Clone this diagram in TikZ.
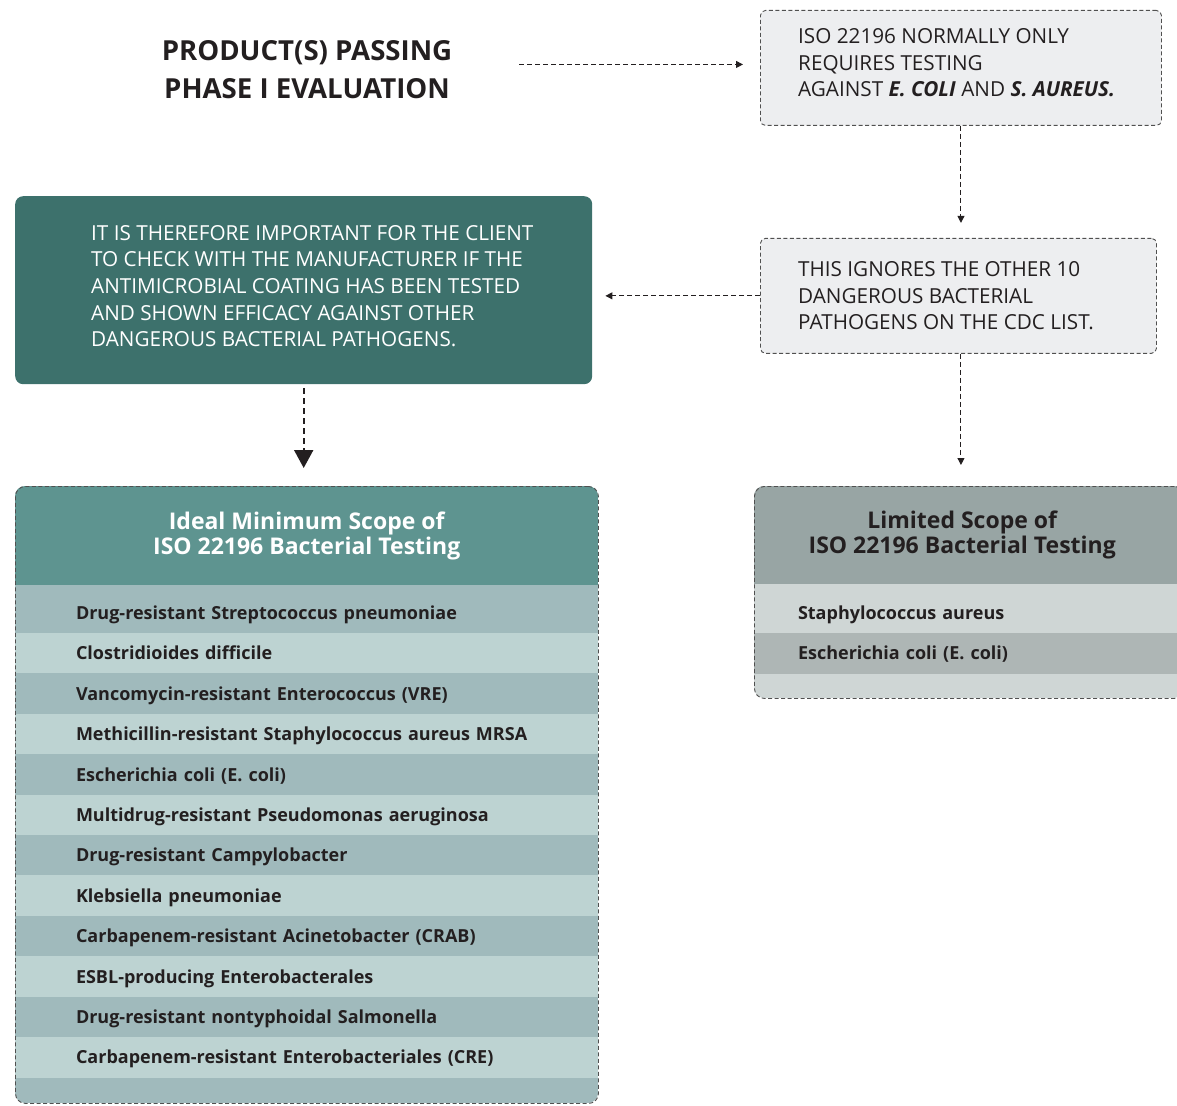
\documentclass[tikz,border=0pt]{standalone}
\usepackage{fontspec}
\setmainfont{Open Sans}
\usepackage{xcolor}
\definecolor{isoDark}{HTML}{231F20}
\definecolor{isoNote}{HTML}{EDEEF0}
\definecolor{isoFrame}{HTML}{505050}
\definecolor{isoTeal}{HTML}{3D716C}
\definecolor{idealHead}{HTML}{5E9490}
\definecolor{idealDark}{HTML}{A0BABC}
\definecolor{idealLight}{HTML}{BDD3D2}
\definecolor{limHead}{HTML}{98A5A4}
\definecolor{limDark}{HTML}{AEB6B5}
\definecolor{limLight}{HTML}{CFD6D5}
\usetikzlibrary{arrows.meta,positioning,calc}
\tikzset{
    note/.style={
        draw=isoFrame,
        fill=isoNote,
        rectangle,
        rounded corners=5pt,
        dash pattern=on 4pt off 2.5pt,
        line width=0.9pt,
        minimum width=401pt,
        minimum height=115pt,
        inner sep=0pt
    },
    notetext/.style={
        anchor=west,
        align=left,
        inner sep=0pt,
        text=isoDark,
        font=\fontsize{20.7}{26.6}\selectfont
    },
    advice/.style={
        fill=isoTeal,
        rectangle,
        rounded corners=8pt,
        minimum width=577pt,
        minimum height=188pt,
        inner sep=0pt
    },
    headline/.style={
        align=center,
        inner sep=0pt,
        text=isoDark,
        font=\bfseries\fontsize{27.6}{38}\selectfont
    },
    scopeframe/.style={
        draw=isoFrame,
        rectangle,
        rounded corners=10pt,
        dash pattern=on 4pt off 2.5pt,
        line width=0.9pt,
        inner sep=0pt
    },
    tablehead/.style={
        rectangle,
        align=center,
        inner sep=0pt,
        minimum height=99pt,
        font=\bfseries\fontsize{23}{25}\selectfont
    },
    tablerow/.style={
        rectangle,
        align=left,
        inner ysep=0pt,
        text height=13pt,
        text depth=0pt,
        minimum height=41pt,
        text=isoDark,
        font=\bfseries\fontsize{18}{22}\selectfont
    },
    flow/.style={
        -{Triangle[length=7pt,width=7pt]},
        draw=isoDark,
        line width=1pt,
        dash pattern=on 5pt off 3pt
    },
    bigflow/.style={
        -{Triangle[length=18pt,width=19pt]},
        draw=isoDark,
        line width=2pt,
        dash pattern=on 6pt off 4pt
    }
}

\begin{document}
\begin{tikzpicture}[x=1pt, y=-1pt]
    \useasboundingbox (0,0) rectangle (1177,1105);

    % Start - products passing phase I
    \node[headline] (phase) at (307,70) {PRODUCT(S) PASSING\\PHASE I EVALUATION};

    % Right column - notes on ISO 22196
    \node[note, anchor=north west] (iso) at (760,10) {};
    \node[notetext] (isotxt) at ($(iso.west)+(38,-5)$) {ISO 22196 NORMALLY ONLY\\REQUIRES TESTING\\AGAINST \textbf{\textit{E. COLI}} AND \textbf{\textit{S. AUREUS.}}};

    \node[note, minimum width=396pt, below right=112pt and 0pt of iso.south west] (ignores) {};
    \node[notetext] (ignorestxt) at ($(ignores.west)+(38,0)$) {THIS IGNORES THE OTHER 10\\DANGEROUS BACTERIAL\\PATHOGENS ON THE CDC LIST.};

    % Left column - advice to the client
    \node[advice, anchor=north west] (client) at (15,196) {};
    \node[notetext, text=white] (clienttxt) at ($(client.west)+(76,-4)$) {IT IS THEREFORE IMPORTANT FOR THE CLIENT\\TO CHECK WITH THE MANUFACTURER IF THE\\ANTIMICROBIAL COATING HAS BEEN TESTED\\AND SHOWN EFFICACY AGAINST OTHER\\DANGEROUS BACTERIAL PATHOGENS.};

    % Ideal scope table - rows
    \begin{scope}
        \clip[rounded corners=10pt] (15,486) rectangle (598,1103);
        \node[tablehead, fill=idealHead, text=white, minimum width=583pt, anchor=north west] (idealhead) at (15,486) {Ideal Minimum Scope of\\ISO 22196 Bacterial Testing};
        \fill[idealDark] (idealhead.south west) rectangle ++(583,9);
        \foreach \name/\shade [count=\i from 0] in {
            Drug-resistant Streptococcus pneumoniae/idealDark,
            Clostridioides difficile/idealLight,
            Vancomycin-resistant Enterococcus (VRE)/idealDark,
            Methicillin-resistant Staphylococcus aureus MRSA/idealLight,
            Escherichia coli (E. coli)/idealDark,
            Multidrug-resistant Pseudomonas aeruginosa/idealLight,
            Drug-resistant Campylobacter/idealDark,
            Klebsiella pneumoniae/idealLight,
            Carbapenem-resistant Acinetobacter (CRAB)/idealDark,
            ESBL-producing Enterobacterales/idealLight,
            Drug-resistant nontyphoidal Salmonella/idealDark,
            Carbapenem-resistant Enterobacteriales (CRE)/idealLight}
        {
            \node[tablerow, fill=\shade, text width=461pt, inner xsep=61pt] (idealrow\i) at (306.5,{613+40.4*\i}) {\name};
        }
        \fill[idealDark] (idealrow11.south west) rectangle (598,1103);
    \end{scope}
    % Ideal scope table - frame
    \node[scopeframe, minimum width=583pt, minimum height=617pt, anchor=north west] (ideal) at (15,486) {};

    % Limited scope table - rows
    \begin{scope}
        \clip[rounded corners=10pt] (754,486) rectangle (1184,698);
        \node[tablehead, fill=limHead, text=isoDark, minimum width=416pt, minimum height=98pt, anchor=north west] (limhead) at (754,486) {Limited Scope of\\ISO 22196 Bacterial Testing};
        \fill[limHead] (limhead.north east) rectangle (1184,584);
        \fill[limLight] (limhead.south west) rectangle (1184,594);
        \foreach \name/\shade [count=\i from 0] in {
            Staphylococcus aureus/limLight,
            Escherichia coli (E. coli)/limDark}
        {
            \node[tablerow, fill=\shade, text width=342pt, inner xsep=44pt] (limrow\i) at (969,{613+40.4*\i}) {\name};
        }
        \fill[limLight] (limrow1.south west) rectangle (1184,698);
    \end{scope}
    % Limited scope table - frame
    \node[scopeframe, minimum width=430pt, minimum height=212pt, anchor=north west] (limited) at (754,486) {};

    % Connections
    \draw[flow, shorten <=67pt, shorten >=17pt, transform canvas={yshift=3.5pt}] (phase.east |- iso.west) -- (iso.west);
    \draw[flow, shorten >=15pt] (iso.south) -- (iso.south |- ignores.north);
    \draw[flow, shorten >=13pt] (ignores.west) -- (ignores.west -| client.east);
    \draw[bigflow, shorten <=4pt, shorten >=18pt] (client.south) -- (client.south |- ideal.north);
    \draw[flow, shorten >=21pt] (iso.south |- ignores.south) -- (iso.south |- limited.north);
\end{tikzpicture}
\end{document}
